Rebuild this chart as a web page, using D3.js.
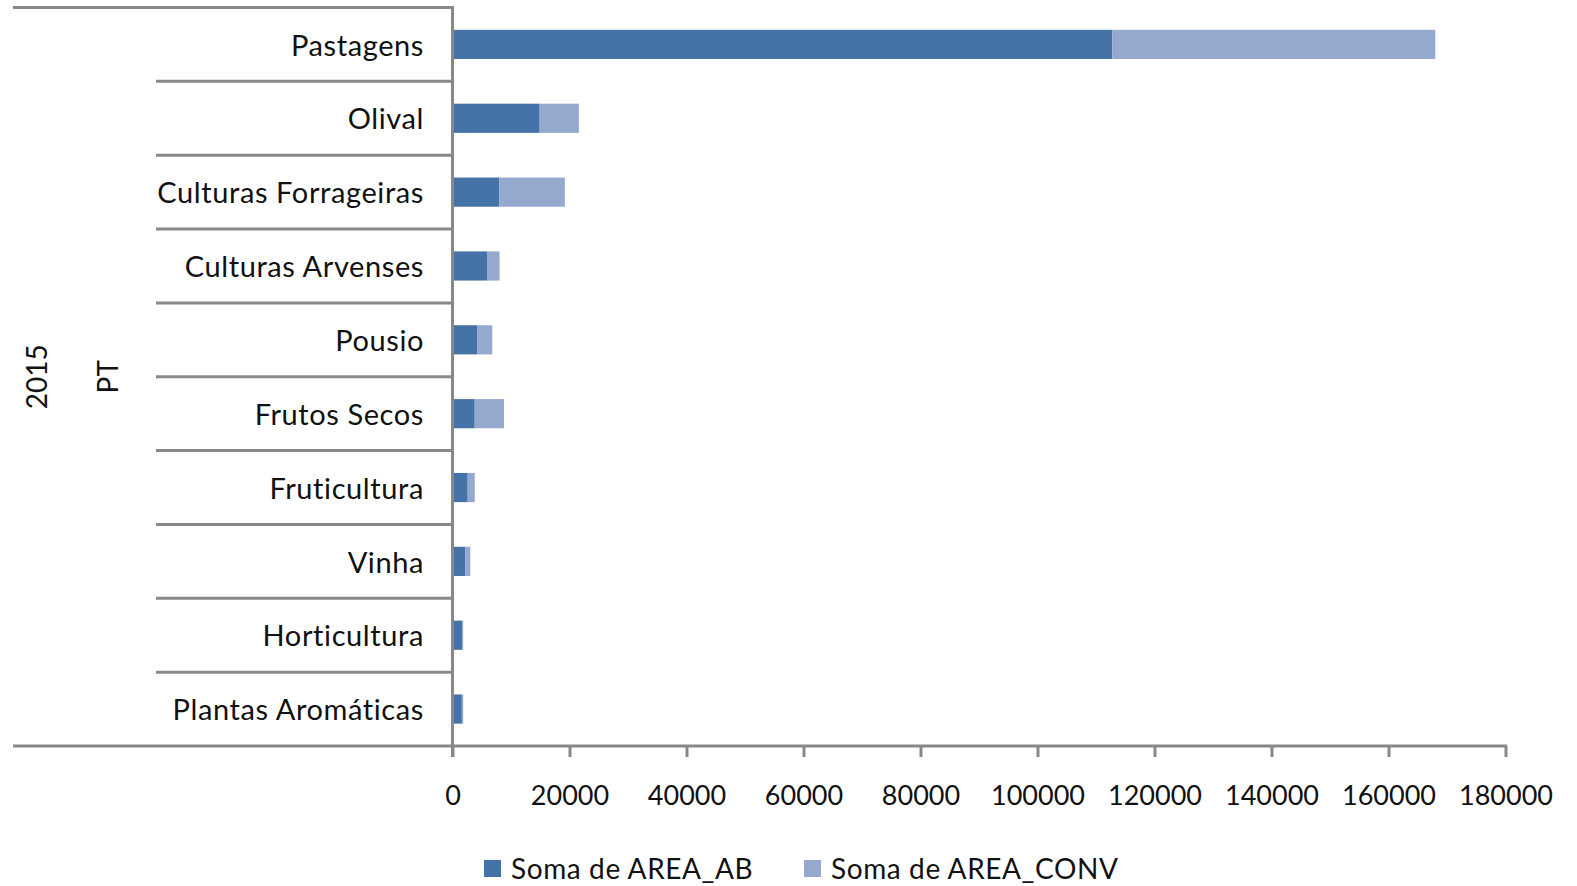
<!DOCTYPE html>
<html><head><meta charset="utf-8">
<script src="https://cdn.jsdelivr.net/npm/d3@7"></script>
<style>body{margin:0;background:#fff}svg{display:block}text{font-family:Lato,"Open Sans",sans-serif;fill:#111}</style>
</head><body><svg id="c" width="1577" height="886"></svg>
<script>
const categories = ["Pastagens","Olival","Culturas Forrageiras","Culturas Arvenses","Pousio","Frutos Secos","Fruticultura","Vinha","Horticultura","Plantas Aromáticas"];
const areaAB   = [112800,14900,8000,5900,4200,3800,2600,2200,1650,1600];
const areaCONV = [55200,6700,11200,2150,2600,5000,1200,850,180,230];
const seriesNames = ["Soma de AREA_AB","Soma de AREA_CONV"];
const tickValues = [0,20000,40000,60000,80000,100000,120000,140000,160000,180000];
const yearLabel = "2015", regionLabel = "PT";

const colors = ["#4572a7","#95a8ce"];
const gray = "#888888";
const svg = d3.select("#c");
const x0 = 452.5, x1 = 1505.5, yTop = 7.5, yBot = 746;
const x = d3.scaleLinear().domain([0,180000]).range([x0,x1]);
const y = d3.scaleBand().domain(categories).range([yTop,yBot]).paddingInner(0.605).paddingOuter(0.3025);
const yRow = d3.scaleBand().domain(categories).range([yTop,yBot]);

const data = categories.map((c,i)=>({cat:c,AB:areaAB[i],CONV:areaCONV[i]}));
const stack = d3.stack().keys(["AB","CONV"])(data);

const g = svg.append("g");
stack.forEach((s,si)=>{
  g.selectAll(null).data(s).enter().append("rect")
   .attr("x",d=>x(d[0])).attr("width",d=>x(d[1])-x(d[0]))
   .attr("y",d=>y(d.data.cat)).attr("height",y.bandwidth())
   .attr("fill",colors[si]);
});

// row separators
const lines = svg.append("g").attr("stroke",gray).attr("stroke-width",3).attr("fill","none");
lines.append("line").attr("x1",13).attr("x2",x0).attr("y1",yTop).attr("y2",yTop);
categories.slice(1).forEach(c=>{
  lines.append("line").attr("x1",156).attr("x2",x0).attr("y1",yRow(c)).attr("y2",yRow(c));
});
// vertical axis line
lines.append("line").attr("x1",x0).attr("x2",x0).attr("y1",yTop-1.5).attr("y2",yBot+11);

// bottom axis
const ax = svg.append("g").attr("transform",`translate(0,${yBot})`)
  .call(d3.axisBottom(x).tickValues(tickValues).tickSize(11).tickPadding(29).tickFormat(d3.format("d")));
ax.select(".domain").remove();
ax.selectAll(".tick line").attr("stroke",gray).attr("stroke-width",3);
ax.selectAll(".tick text").attr("font-size",27).attr("fill","#111").style("font-family","Lato");
svg.append("line").attr("x1",13).attr("x2",x1+1.5).attr("y1",yBot).attr("y2",yBot).attr("stroke",gray).attr("stroke-width",3);

// category labels
svg.append("g").selectAll("text").data(categories).enter().append("text")
  .attr("x",424).attr("y",d=>yRow(d)+yRow.bandwidth()/2+1).attr("dy","0.35em")
  .attr("text-anchor","end").attr("font-size",29).attr("letter-spacing",0.6).text(d=>d);

const midY = (yTop+yBot)/2;
svg.append("text").attr("transform",`translate(47,${midY}) rotate(-90)`).attr("text-anchor","middle").attr("font-size",28).text(yearLabel);
svg.append("text").attr("transform",`translate(118,${midY}) rotate(-90)`).attr("text-anchor","middle").attr("font-size",28).text(regionLabel);

// legend
const leg = svg.append("g");
const legX = [484, 804];
seriesNames.forEach((n,i)=>{
  leg.append("rect").attr("x",legX[i]).attr("y",860).attr("width",17).attr("height",17).attr("fill",colors[i]);
  leg.append("text").attr("x",legX[i]+27).attr("y",869).attr("dy","0.35em").attr("font-size",28).attr("letter-spacing",0.6).text(n);
});
</script></body></html>
